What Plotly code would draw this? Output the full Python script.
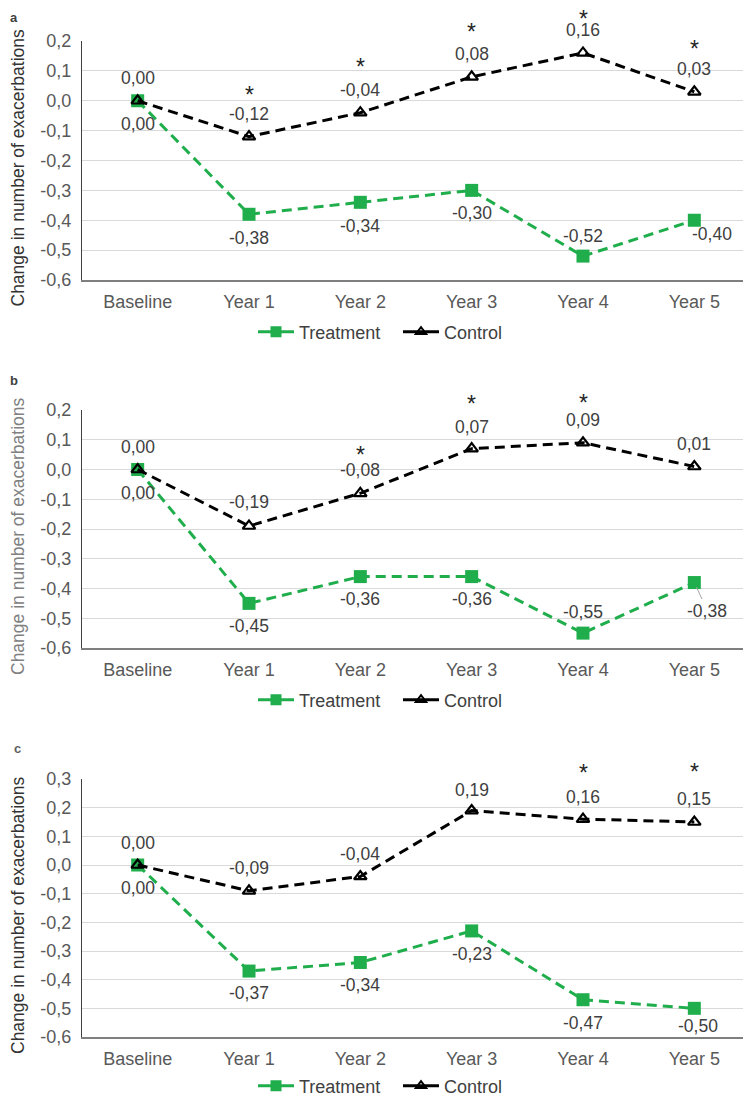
import plotly.graph_objects as go

# ---------------- data ----------------
categories = ["Baseline", "Year 1", "Year 2", "Year 3", "Year 4", "Year 5"]

treat_a = [0.00, -0.38, -0.34, -0.30, -0.52, -0.40]
ctrl_a = [0.00, -0.12, -0.04, 0.08, 0.16, 0.03]
sig_a = [False, True, True, True, True, True]

treat_b = [0.00, -0.45, -0.36, -0.36, -0.55, -0.38]
ctrl_b = [0.00, -0.19, -0.08, 0.07, 0.09, 0.01]
sig_b = [False, False, True, True, True, False]

treat_c = [0.00, -0.37, -0.34, -0.23, -0.47, -0.50]
ctrl_c = [0.00, -0.09, -0.04, 0.19, 0.16, 0.15]
sig_c = [False, False, False, False, True, True]

ytick_vals_ab = [0.2, 0.1, 0.0, -0.1, -0.2, -0.3, -0.4, -0.5, -0.6]
ytick_text_ab = ["0,2", "0,1", "0,0", "-0,1", "-0,2", "-0,3", "-0,4", "-0,5", "-0,6"]
ytick_vals_c = [0.3, 0.2, 0.1, 0.0, -0.1, -0.2, -0.3, -0.4, -0.5, -0.6]
ytick_text_c = ["0,3", "0,2", "0,1", "0,0", "-0,1", "-0,2", "-0,3", "-0,4", "-0,5", "-0,6"]

series_names = ["Treatment", "Control"]
y_title = "Change in number of exacerbations"
panel_letters = ["a", "b", "c"]

# ---------------- style ----------------
PAGE_OFF = 8                      # browser body margin
W, H = 751 - PAGE_OFF, 1099 - PAGE_OFF
GREEN = "#1fae4b"
BLACK = "#000000"
FONT = "Liberation Sans, Arial, sans-serif"
LABEL_COL = "#404040"
TICK_COL = "#595959"
FS_TICK = 18
FS_LABEL = 17.5
FS_LEG = 18


def fy(p):
    return min(1.0, 1 - (p - PAGE_OFF) / H)


def fx(p):
    return max(0.0, (p - PAGE_OFF) / W)


# label offsets (dx, dy) in pixels, screen coords (dy>0 = down)
treat_off = [
    [(0, 23), (0, 24), (0, 24), (0, 23), (0, -20), (18, 14)],
    [(0, 23), (0, 23), (0, 22), (0, 22), (0, -21), None],
    [(0, 23), (0, 22), (0, 23), (0, 23), (0, 23), (4, 18)],
]
ctrl_off = [
    [(0, -23), (0, -23), (0, -23), (0, -23), (0, -23), (0, -23)],
    [(0, -23), (0, -24), (0, -23), (0, -22), (0, -23), (0, -23)],
    [(0, -22), (0, -23), (0, -22), (0, -21), (0, -22), (0, -23)],
]
# distance (px) of the asterisk glyph above its marker
sig_dist = [
    [0, 46, 50, 49, 38, 47],
    [0, 0, 42, 49, 44, 0],
    [0, 0, 0, 0, 50, 54],
]
SIG_GLYPH_LIFT = 4

panels = [
    dict(treat=treat_a, ctrl=ctrl_a, sig=sig_a, top=41, bot=280, rng=[-0.6, 0.2],
         tv=ytick_vals_ab, tt=ytick_text_ab, leg_y=332, letter_xy=(3, 8),
         title_col="#333333", letter_col="#404040"),
    dict(treat=treat_b, ctrl=ctrl_b, sig=sig_b, top=410, bot=648, rng=[-0.6, 0.2],
         tv=ytick_vals_ab, tt=ytick_text_ab, leg_y=700, letter_xy=(3, 378),
         title_col="#808080", letter_col="#404040"),
    dict(treat=treat_c, ctrl=ctrl_c, sig=sig_c, top=779, bot=1037, rng=[-0.6, 0.3],
         tv=ytick_vals_c, tt=ytick_text_c, leg_y=1086, letter_xy=(12, 746),
         title_col="#333333", letter_col="#606060"),
]

X0, X1 = 82, 750
LEG_X = 253


def fmt(v):
    return f"{v:.2f}".replace(".", ",")


fig = go.Figure()
annotations = []
layout_extra = {}

for i, p in enumerate(panels):
    n = "" if i == 0 else str(i + 1)
    xa, ya = "x" + n, "y" + n
    leg = "legend" + n
    fig.add_trace(go.Scatter(
        x=categories, y=p["treat"], mode="lines+markers", name=series_names[0],
        xaxis=xa, yaxis=ya, showlegend=False,
        line=dict(color=GREEN, width=3, dash="10px,6px"),
        marker=dict(symbol="square", size=13, color=GREEN),
        hoverinfo="skip"))
    fig.add_trace(go.Scatter(
        x=categories, y=p["ctrl"], mode="lines+markers", name=series_names[1],
        xaxis=xa, yaxis=ya, showlegend=False,
        line=dict(color=BLACK, width=3, dash="10px,6px"),
        marker=dict(symbol="triangle-up-open", size=11, color=BLACK,
                    line=dict(width=2.2, color=BLACK)),
        hoverinfo="skip"))
    fig.add_trace(go.Scatter(
        x=[None], y=[None], mode="lines+markers", name=series_names[0],
        xaxis=xa, yaxis=ya, legend=leg,
        line=dict(color=GREEN, width=3),
        marker=dict(symbol="square", size=11, color=GREEN)))
    fig.add_trace(go.Scatter(
        x=[None], y=[None], mode="lines+markers", name=series_names[1],
        xaxis=xa, yaxis=ya, legend=leg,
        line=dict(color=BLACK, width=3),
        marker=dict(symbol="triangle-up-open", size=9, color=BLACK,
                    line=dict(width=2, color=BLACK))))

    layout_extra["xaxis" + n] = dict(
        domain=[fx(X0), min(1.0, fx(X1))], anchor=ya, type="category", automargin=False,
        categoryorder="array", categoryarray=categories, range=[-0.5, 5.5],
        showline=True, linecolor="#7f7f7f", linewidth=1.5, showgrid=False,
        ticks="outside", ticklen=5, tickcolor="rgba(0,0,0,0)",
        tickfont=dict(family=FONT, size=FS_TICK, color=TICK_COL), fixedrange=True)
    layout_extra["yaxis" + n] = dict(
        domain=[fy(p["bot"]), fy(p["top"])], anchor=xa, range=p["rng"], automargin=False,
        tickvals=p["tv"], ticktext=p["tt"], showline=True, linecolor="#404040",
        linewidth=1.3, showgrid=True, gridcolor="#d9d9d9", gridwidth=1,
        zeroline=False, ticks="outside", ticklen=6, tickcolor="rgba(0,0,0,0)",
        tickfont=dict(family=FONT, size=FS_TICK, color=TICK_COL), fixedrange=True)
    layout_extra[leg] = dict(
        orientation="h", x=fx(LEG_X), xanchor="left", y=fy(p["leg_y"]),
        yanchor="middle", font=dict(family=FONT, size=FS_LEG, color=LABEL_COL),
        bgcolor="rgba(0,0,0,0)", itemwidth=36, tracegroupgap=0,
        entrywidth=94, entrywidthmode="pixels")

    for j, cat in enumerate(categories):
        v = p["ctrl"][j]
        dx, dy = ctrl_off[i][j]
        annotations.append(dict(
            x=cat, y=v, xref=xa, yref=ya, text=fmt(v), showarrow=False,
            xshift=dx, yshift=-dy, font=dict(family=FONT, size=FS_LABEL, color=LABEL_COL)))
        if p["sig"][j]:
            annotations.append(dict(
                x=cat, y=v, xref=xa, yref=ya, text="*", showarrow=False,
                xshift=0, yshift=sig_dist[i][j] - SIG_GLYPH_LIFT,
                font=dict(family=FONT, size=23, color="#262626")))
        v = p["treat"][j]
        off = treat_off[i][j]
        if off is None:
            annotations.append(dict(
                x=cat, y=v, xref=xa, yref=ya, text=fmt(v), showarrow=True,
                arrowhead=0, arrowwidth=1, arrowcolor="#a6a6a6", ax=13, ay=28,
                standoff=5, font=dict(family=FONT, size=FS_LABEL, color=LABEL_COL)))
        else:
            dx, dy = off
            annotations.append(dict(
                x=cat, y=v, xref=xa, yref=ya, text=fmt(v), showarrow=False,
                xshift=dx, yshift=-dy,
                font=dict(family=FONT, size=FS_LABEL, color=LABEL_COL)))

    annotations.append(dict(
        x=fx(18), y=fy((p["top"] + p["bot"]) / 2 + 7), xref="paper", yref="paper",
        text=y_title, textangle=-90, showarrow=False, xanchor="center",
        yanchor="middle", font=dict(family=FONT, size=17.5, color=p["title_col"])))
    lx, ly = p["letter_xy"]
    annotations.append(dict(
        x=fx(lx), y=fy(ly - 7), xref="paper", yref="paper", text="<b>" + panel_letters[i] + "</b>",
        showarrow=False, xanchor="left", yanchor="top",
        font=dict(family=FONT, size=13, color=p["letter_col"])))

fig.update_layout(
    width=W, height=H, autosize=False,
    margin=dict(l=0, r=0, t=0, b=0, pad=0, autoexpand=False),
    paper_bgcolor="white", plot_bgcolor="white",
    annotations=annotations,
    **layout_extra,
)

fig.write_html("out.html")
